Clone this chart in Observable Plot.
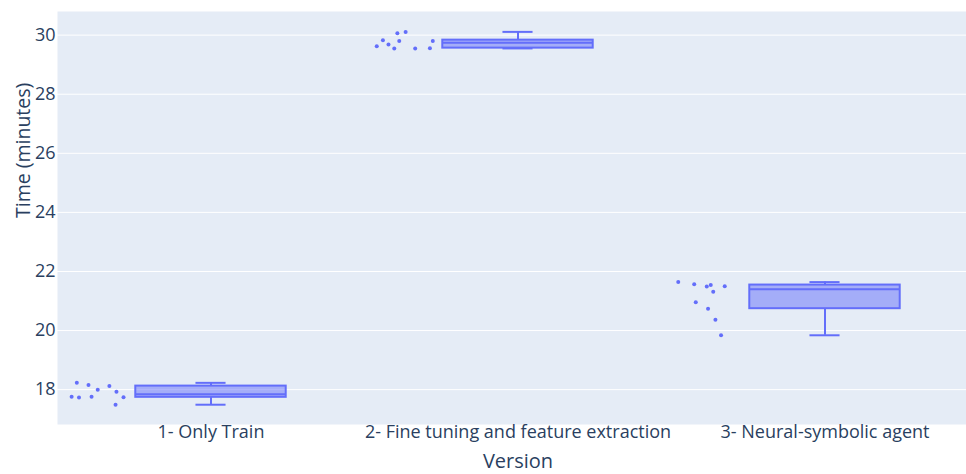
<!DOCTYPE html>
<html>
<head>
<meta charset="utf-8">
<script src="https://cdn.jsdelivr.net/npm/d3@7"></script>
<script src="https://cdn.jsdelivr.net/npm/@observablehq/plot@0.6"></script>
<style>
  html, body { margin: 0; padding: 0; background: #fff; }
  #chart svg { display: block; }
</style>
</head>
<body>
<div id="chart"></div>
<script>
// Run time (minutes) of each version, ten runs each
const categories = ["1- Only Train", "2- Fine tuning and feature extraction", "3- Neural-symbolic agent"];
const onlyTrain      = [17.76, 18.23, 17.73, 18.16, 17.76, 18.00, 18.12, 17.93, 17.49, 17.74];
const fineTuning     = [29.62, 29.83, 29.68, 29.55, 30.06, 29.80, 30.11, 29.55, 29.56, 29.80];
const neuralSymbolic = [21.64, 21.57, 20.96, 21.49, 21.54, 21.31, 20.74, 20.37, 19.84, 21.50];

// Horizontal jitter of each run's dot, as a fraction of the box half-width
const onlyTrainJitter      = [-0.353, -0.284, -0.255, -0.129, -0.088, -0.006, 0.149, 0.243, 0.231, 0.337];
const fineTuningJitter     = [-0.378, -0.296, -0.222, -0.145, -0.104, -0.079, 0.006, 0.133, 0.329, 0.367];
const neuralSymbolicJitter = [-0.451, -0.239, -0.218, -0.072, -0.019, 0.014, -0.055, 0.043, 0.118, 0.167];

const yTicks = [18, 20, 22, 24, 26, 28, 30];

const series = [onlyTrain, fineTuning, neuralSymbolic];
const jitters = [onlyTrainJitter, fineTuningJitter, neuralSymbolicJitter];

const boxColor = "#636efa";
const halfWidth = 0.245;   // box half-width, in category units
const pointPos = -1.5;     // dots sit to the left of each box
const capHalf = 0.2 * halfWidth;

// Linear-interpolated quantile (position p*n - 0.5 on the sorted values)
function quantile(sorted, p) {
  const n = sorted.length;
  let pos = p * n - 0.5;
  if (pos <= 0) return sorted[0];
  if (pos >= n - 1) return sorted[n - 1];
  const f = Math.floor(pos), frac = pos - f;
  return sorted[f] * (1 - frac) + sorted[f + 1] * frac;
}

const stats = series.map((vals, i) => {
  const s = vals.slice().sort((a, b) => a - b);
  const q1 = quantile(s, 0.25), q3 = quantile(s, 0.75), median = quantile(s, 0.5);
  const iqr = q3 - q1;
  const lo = d3.min(s.filter(v => v >= q1 - 1.5 * iqr));
  const hi = d3.max(s.filter(v => v <= q3 + 1.5 * iqr));
  return {i, q1, q3, median, lo, hi};
});

const points = series.flatMap((vals, i) =>
  vals.map((value, k) => ({i, value, jitter: jitters[i][k]}))
);

const chart = Plot.plot({
  width: 966,
  height: 474,
  marginLeft: 57,
  marginRight: 0,
  marginTop: 11,
  marginBottom: 50,
  style: {fontFamily: "'Open Sans', sans-serif", color: "#2a3f5f", background: "#fff", overflow: "visible"},
  x: {domain: [-0.5, 2.5], range: [57, 978]},
  y: {domain: [16.82, 30.8]},
  marks: [
    Plot.frame({fill: "#e5ecf6", stroke: null}),
    Plot.gridY(yTicks, {stroke: "#fff", strokeOpacity: 1, strokeWidth: 1}),
    Plot.axisY(yTicks, {tickSize: 0, tickPadding: 2, fontSize: 18, label: null}),
    Plot.axisX([0, 1, 2], {tickSize: 0, tickPadding: 1, fontSize: 18, tickFormat: i => categories[i], label: null}),
    // Whiskers and caps
    Plot.ruleX(stats, {x: "i", y1: "q3", y2: "hi", stroke: boxColor, strokeWidth: 2}),
    Plot.ruleX(stats, {x: "i", y1: "lo", y2: "q1", stroke: boxColor, strokeWidth: 2}),
    Plot.ruleY(stats, {y: "hi", x1: d => d.i - capHalf, x2: d => d.i + capHalf, stroke: boxColor, strokeWidth: 2}),
    Plot.ruleY(stats, {y: "lo", x1: d => d.i - capHalf, x2: d => d.i + capHalf, stroke: boxColor, strokeWidth: 2}),
    // Boxes and medians
    Plot.rect(stats, {
      x1: d => d.i - halfWidth, x2: d => d.i + halfWidth, y1: "q1", y2: "q3",
      fill: boxColor, fillOpacity: 0.5, stroke: boxColor, strokeWidth: 2
    }),
    Plot.ruleY(stats, {y: "median", x1: d => d.i - halfWidth, x2: d => d.i + halfWidth, stroke: boxColor, strokeWidth: 2}),
    // Individual runs
    Plot.dot(points, {
      x: d => d.i + (pointPos + d.jitter) * halfWidth,
      y: "value",
      r: 2,
      fill: boxColor,
      stroke: null
    }),
    // Axis titles
    Plot.text(["Time (minutes)"], {frameAnchor: "left", dx: -34, rotate: -90, fontSize: 19.5, fill: "#2a3f5f"}),
    Plot.text(["Version"], {x: () => 1, frameAnchor: "bottom", dy: 43.5, fontSize: 20, fill: "#2a3f5f"})
  ]
});

document.getElementById("chart").append(chart);
</script>
</body>
</html>
